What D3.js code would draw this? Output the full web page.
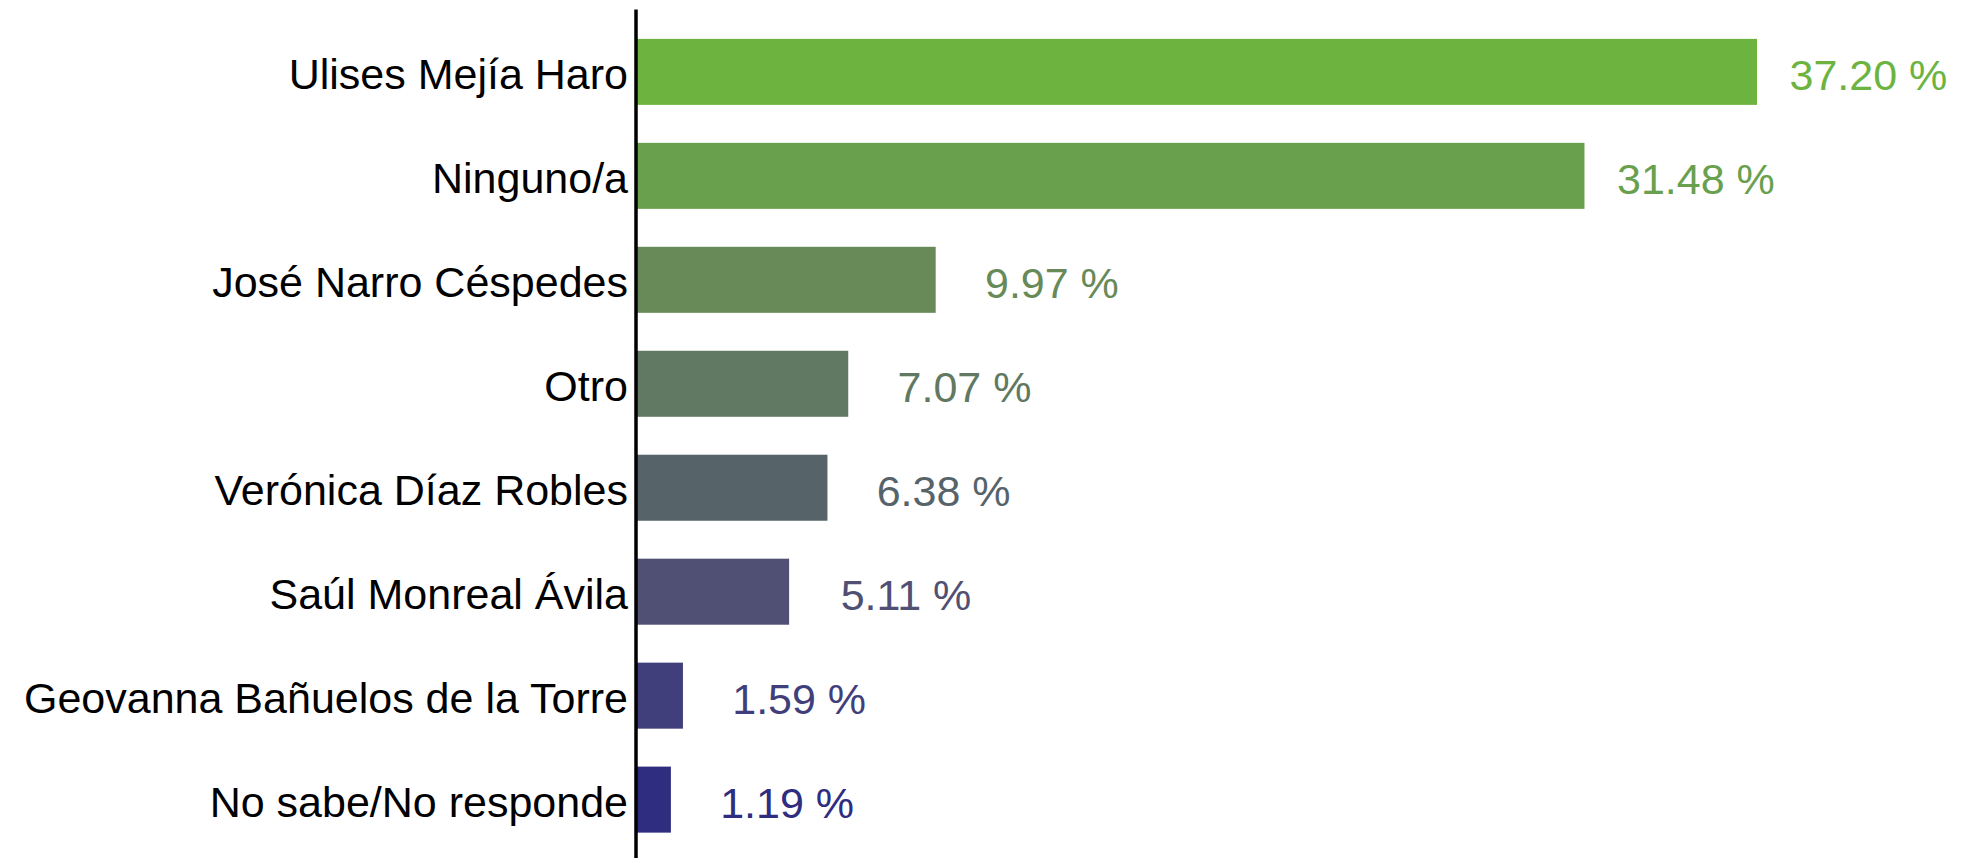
<!DOCTYPE html>
<html>
<head>
<meta charset="utf-8">
<script src="https://cdn.jsdelivr.net/npm/d3@7"></script>
<style>
  html, body { margin: 0; padding: 0; background: #fff; }
  svg { display: block; }
  text { font-family: "Liberation Sans", Arial, sans-serif; }
</style>
</head>
<body>
<div id="chart"></div>
<script>
// data
var candidates = ['Ulises Mejía Haro', 'Ninguno/a', 'José Narro Céspedes', 'Otro',
                  'Verónica Díaz Robles', 'Saúl Monreal Ávila',
                  'Geovanna Bañuelos de la Torre', 'No sabe/No responde'];
var shares = [37.20, 31.48, 9.97, 7.07, 6.38, 5.11, 1.59, 1.19];

var W = 1965, H = 858;
var fontSize = 43;

var data = candidates.map(function(c, i){ return {name: c, value: shares[i]}; });

var svg = d3.select('#chart').append('svg')
    .attr('width', W)
    .attr('height', H);

//scales
var x = d3.scaleLinear().domain([0, 37.2]).range([635, 1757]);
var y = d3.scaleBand().domain(candidates)
    .range([9.5, 862])
    .paddingInner(0.365)
    .paddingOuter(0.2825);

//green -> navy gradient by rank
var color = d3.scaleOrdinal()
    .domain(candidates)
    .range(['#6db33f', '#69a04e', '#688a59', '#617862', '#56646a', '#4f5073', '#413f7b', '#2e2d80']);

//bars
svg.selectAll('.bar')
    .data(data)
  .enter().append('rect')
    .attr('class', 'bar')
    .attr('x', x(0))
    .attr('y', function(d){ return y(d.name); })
    .attr('width', function(d){ return x(d.value) - x(0); })
    .attr('height', y.bandwidth())
    .attr('fill', function(d){ return color(d.name); });

//value labels
svg.selectAll('.value')
    .data(data)
  .enter().append('text')
    .attr('class', 'value')
    .attr('font-size', fontSize)
    .attr('fill', function(d){ return color(d.name); })
    .attr('y', function(d){ return y(d.name) + y.bandwidth() / 2; })
    .attr('dy', '0.43em')
    .text(function(d){ return d.value.toFixed(2) + ' %'; })
    .attr('x', function(d){
      var w = this.getComputedTextLength();
      return x(d.value) + 143 - 0.7 * w;
    });

//category axis
var axis = d3.axisLeft(y).tickSize(0).tickPadding(8);
var gAxis = svg.append('g')
    .attr('transform', 'translate(636,0)')
    .call(axis);

gAxis.select('.domain')
    .attr('stroke', '#000')
    .attr('stroke-width', 3.5)
    .attr('d', 'M0,9.5V' + H);

gAxis.selectAll('text')
    .attr('font-family', '"Liberation Sans", Arial, sans-serif')
    .attr('font-size', fontSize)
    .attr('fill', '#000')
    .attr('dy', '0.4em');
</script>
</body>
</html>
